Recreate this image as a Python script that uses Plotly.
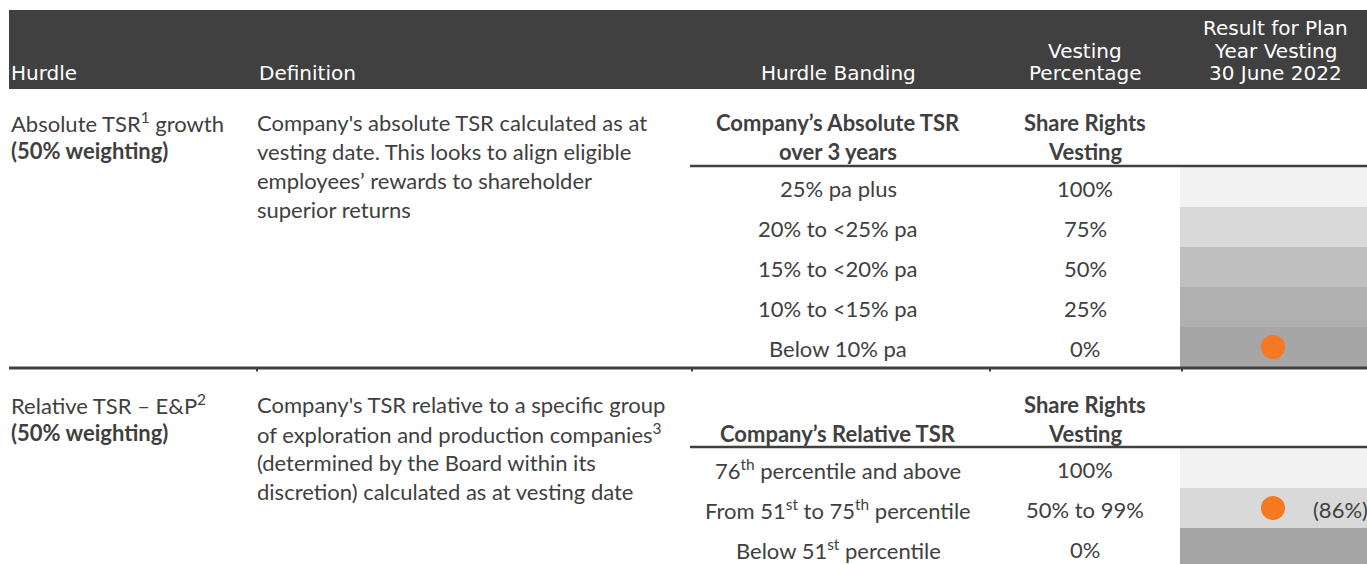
import plotly.graph_objects as go

# ---------------- data ----------------
header_labels = [["Hurdle"], ["Definition"], ["Hurdle Banding"], ["Vesting", "Percentage"],
                 ["Result for Plan", "Year Vesting", "30 June 2022"]]

abs_hurdle = ["Absolute TSR<sup>1</sup> growth", "<b>(50% weighting)</b>"]
abs_definition = ["Company's absolute TSR calculated as at",
                  "vesting date. This looks to align eligible",
                  "employees\u2019 rewards to shareholder",
                  "superior returns"]
abs_band_title = ["<b>Company\u2019s Absolute TSR</b>", "<b>over 3 years</b>"]
abs_vest_title = ["<b>Share Rights</b>", "<b>Vesting</b>"]
abs_bands = ["25% pa plus", "20% to <25% pa", "15% to <20% pa", "10% to <15% pa", "Below 10% pa"]
abs_vesting = ["100%", "75%", "50%", "25%", "0%"]
abs_result_row = 4
abs_result_label = ""

rel_hurdle = ["Relative TSR \u2013 E&P<sup>2</sup>", "<b>(50% weighting)</b>"]
rel_definition = ["Company's TSR relative to a specific group",
                  "of exploration and production companies<sup>3</sup>",
                  "(determined by the Board within its",
                  "discretion) calculated as at vesting date"]
rel_band_title = ["", "<b>Company\u2019s Relative TSR</b>"]
rel_vest_title = ["<b>Share Rights</b>", "<b>Vesting</b>"]
rel_bands = ["76<sup>th</sup> percentile and above",
             "From 51<sup>st</sup> to 75<sup>th</sup> percentile",
             "Below 51<sup>st</sup> percentile"]
rel_vesting = ["100%", "50% to 99%", "0%"]
rel_result_row = 1
rel_result_label = "(86%)"

# ---------------- styles / layout ----------------
abs_shades = ["#f2f2f2", "#d9d9d9", "#bfbfbf", "#b0b0b0", "#a6a6a6"]
rel_shades = ["#f2f2f2", "#d9d9d9", "#a6a6a6"]
DARK = "#404040"
TEXT = "#404040"
ORANGE = "#f47920"
BODY_FONT = "Lato"
HEAD_FONT = "DejaVu Sans"
BODY_SIZE = 22
HEAD_SIZE = 20

W, H = 1367, 564
col_hurdle_x = 9
col_def_x = 255
col_band_cx = 838
col_vest_cx = 1085
col_res_x0 = 1180
col_res_cx = 1273
row_h = 40
line_spacing = 29

fig = go.Figure()
shapes = []
ann = []


def txt(x, y, t, anchor="left", font=BODY_FONT, size=BODY_SIZE, color=TEXT, xshift=0):
    ann.append(dict(x=x, y=y, text=t, xanchor=anchor, yanchor="middle", align=anchor,
                    showarrow=False, xshift=xshift,
                    font=dict(family=font, size=size, color=color)))


# header band
shapes.append(dict(type="rect", x0=9, x1=W, y0=10, y1=89, fillcolor=DARK, line_width=0, layer="below"))
head_pos = [(col_hurdle_x, "left"), (257, "left"), (col_band_cx, "center"),
            (col_vest_cx, "center"), (1275, "center")]
head_line_y = [73, 50.5, 28]
for (x, al), lines in zip(head_pos, header_labels):
    for k, t in enumerate(reversed(lines)):
        txt(x, head_line_y[k], t, al, HEAD_FONT, HEAD_SIZE, "white")


def section(top_y, hurdle, definition, band_title, vest_title,
            line_y, bands, vesting, shades, result_row, result_label, sep_y):
    for i, t in enumerate(hurdle):
        txt(col_hurdle_x, top_y + i * 28.5, t)
    for i, t in enumerate(definition):
        txt(col_def_x, top_y + i * line_spacing, t)
    for i, t in enumerate(band_title):
        if t:
            txt(col_band_cx, top_y + i * 29.5, t, "center")
    for i, t in enumerate(vest_title):
        txt(col_vest_cx, top_y + i * 29.5, t, "center")
    for i, (b, v, c) in enumerate(zip(bands, vesting, shades)):
        y0 = line_y + i * row_h
        y1 = min(y0 + row_h, H)
        shapes.append(dict(type="rect", x0=col_res_x0, x1=W, y0=y0, y1=y1, fillcolor=c,
                           line_width=0, layer="below"))
        yc = y0 + row_h / 2 + 1.5
        txt(col_band_cx, yc, b, "center")
        txt(col_vest_cx, yc, v, "center")
    shapes.append(dict(type="line", x0=690, x1=W, y0=line_y - 1, y1=line_y - 1,
                       line=dict(color=DARK, width=2.5)))
    yr = line_y + result_row * row_h + row_h / 2
    fig.add_trace(go.Scatter(x=[col_res_cx], y=[yr], mode="markers",
                             marker=dict(size=24, color=ORANGE, line_width=0),
                             hoverinfo="skip", showlegend=False))
    if result_label:
        txt(W, yr + 1, result_label, "right", xshift=3)
    if sep_y is not None:
        shapes.append(dict(type="line", x0=9, x1=W, y0=sep_y, y1=sep_y,
                           line=dict(color=DARK, width=3)))
        for tx in [257, 692, 990, 1182]:
            shapes.append(dict(type="rect", x0=tx - 1, x1=tx + 1, y0=sep_y, y1=sep_y + 3.5,
                               fillcolor=DARK, line_width=0))


section(122, abs_hurdle, abs_definition, abs_band_title, abs_vest_title,
        167, abs_bands, abs_vesting, abs_shades, abs_result_row, abs_result_label, 368)
section(404, rel_hurdle, rel_definition, rel_band_title, rel_vest_title,
        448, rel_bands, rel_vesting, rel_shades, rel_result_row, rel_result_label, None)

fig.update_layout(
    width=W, height=H, margin=dict(l=0, r=0, t=0, b=0),
    paper_bgcolor="white", plot_bgcolor="white",
    xaxis=dict(range=[0, W], visible=False, fixedrange=True),
    yaxis=dict(range=[H, 0], visible=False, fixedrange=True),
    shapes=shapes, annotations=ann, showlegend=False,
)
fig.write_html("out.html", config={"displayModeBar": False},
               post_script="document.body.style.margin='0';document.body.style.overflow='hidden';")
